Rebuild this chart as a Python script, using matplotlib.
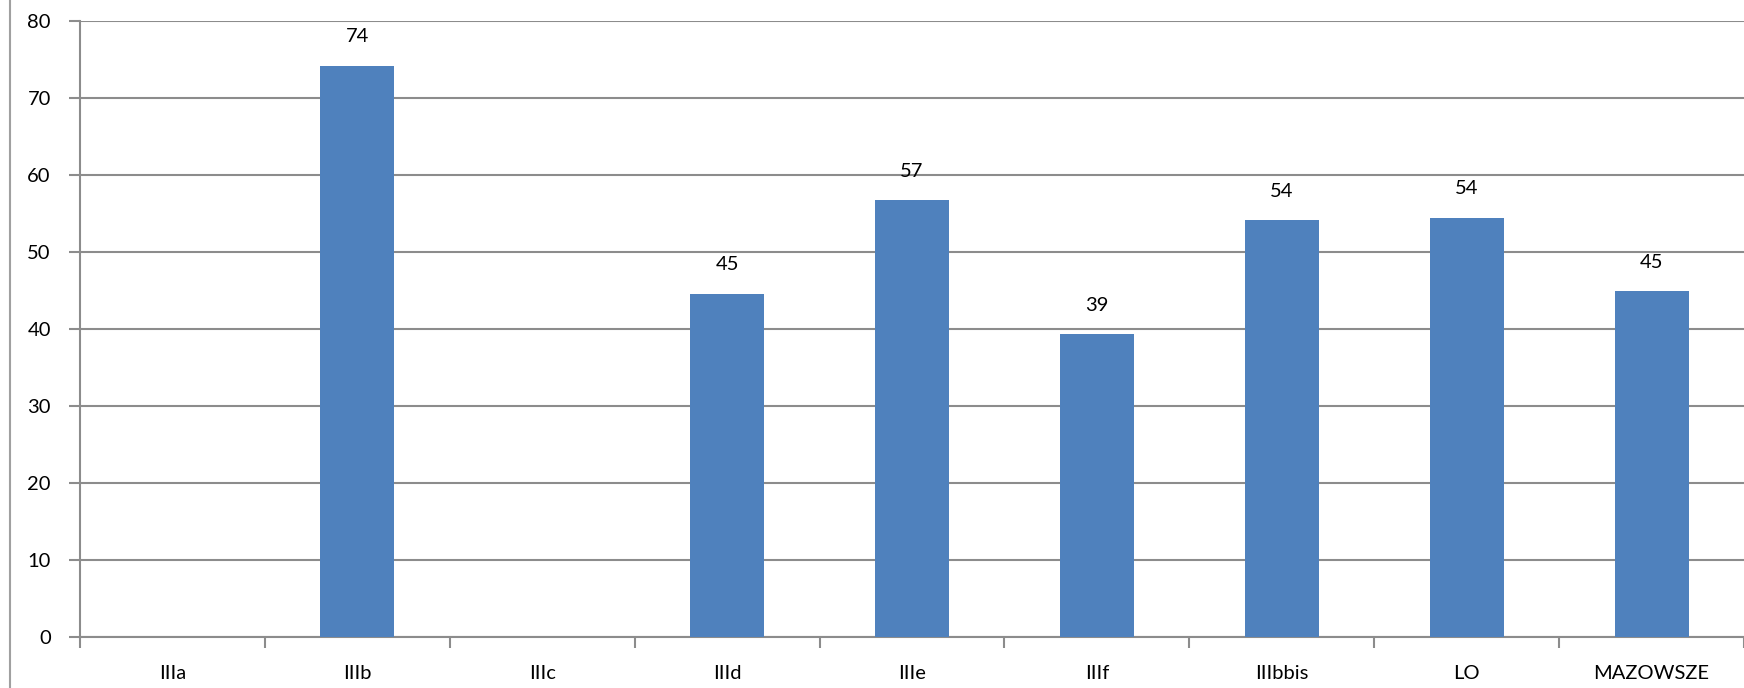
import numpy as np
import matplotlib
matplotlib.use("Agg")
import matplotlib.pyplot as plt
from matplotlib.lines import Line2D

categories = ["IIIa", "IIIb", "IIIc", "IIId", "IIIe", "IIIf", "IIIbbis", "LO", "MAZOWSZE"]
values = [np.nan, 74.2, np.nan, 44.6, 56.7, 39.3, 54.1, 54.4, 44.9]
yticks = [0, 10, 20, 30, 40, 50, 60, 70, 80]

plt.rcParams["font.family"] = ["Lato", "DejaVu Sans"]
plt.rcParams["font.size"] = 14.5

W, H = 1744, 688
fig = plt.figure(figsize=(W / 100, H / 100), dpi=100)
ax = fig.add_axes([80 / W, (H - 637) / H, 1 - 80 / W, (637 - 21) / H])

grid_c = "#8c8c8c"
x = np.arange(len(categories))
bars = ax.bar(x, values, width=0.4, color="#4f81bd", zorder=3)

for xi, v in zip(x, values):
    if np.isnan(v):
        continue
    ax.annotate(f"{v:.0f}", (xi, v), xytext=(0, 21), textcoords="offset points",
                ha="center", va="center", fontsize=14.5)

ax.set_xlim(-0.5, len(categories) - 0.5)
ax.set_ylim(0, 80)
ax.set_yticks(yticks)
ax.set_xticks(x)
ax.set_xticklabels(categories)
ax.set_xticks(np.arange(len(categories) + 1) - 0.5, minor=True)
ax.tick_params(axis="x", which="major", length=0, pad=20)
ax.tick_params(axis="x", which="minor", length=8, width=1.5, color=grid_c)
ax.tick_params(axis="y", length=8, width=1.5, color=grid_c, pad=13)

ax.yaxis.grid(True, color=grid_c, linewidth=1.5, zorder=0)
ax.set_axisbelow(True)
for s in ["top", "right"]:
    ax.spines[s].set_visible(False)
for s in ["left", "bottom"]:
    ax.spines[s].set_color(grid_c)
    ax.spines[s].set_linewidth(1.5)

# outer chart border on the left
fig.add_artist(Line2D([10 / W, 10 / W], [0, 1], color="#a0a0a0", linewidth=1.5))

fig.savefig("out.png", dpi=100)
